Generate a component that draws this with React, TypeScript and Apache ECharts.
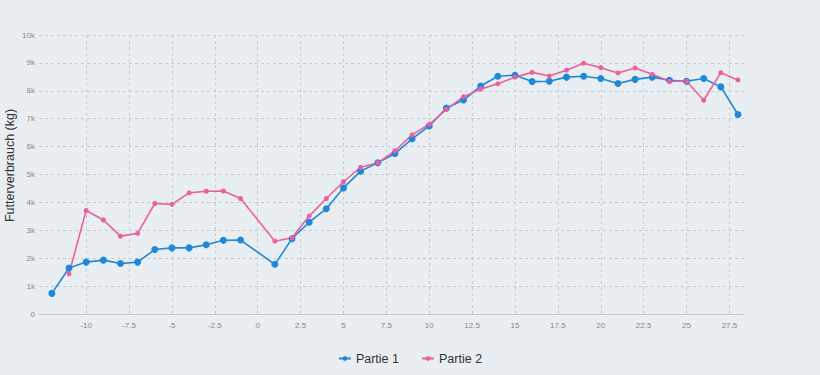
import React, { useEffect, useRef } from "react";
import * as echarts from "echarts";

const xs1 = [-12, -11, -10, -9, -8, -7, -6, -5, -4, -3, -2, -1, 1, 2, 3, 4, 5, 6, 7, 8, 9, 10, 11, 12, 13, 14, 15, 16, 17, 18, 19, 20, 21, 22, 23, 24, 25, 26, 27, 28];
const partie1 = [740, 1650, 1860, 1930, 1810, 1860, 2310, 2370, 2370, 2480, 2640, 2650, 1780, 2700, 3290, 3770, 4520, 5120, 5420, 5750, 6280, 6740, 7380, 7670, 8170, 8520, 8560, 8330, 8340, 8490, 8520, 8440, 8260, 8410, 8490, 8380, 8340, 8440, 8140, 7150];
const xs2 = [-11, -10, -9, -8, -7, -6, -5, -4, -3, -2, -1, 1, 2, 3, 4, 5, 6, 7, 8, 9, 10, 11, 12, 13, 14, 15, 16, 17, 18, 19, 20, 21, 22, 23, 24, 25, 26, 27, 28];
const partie2 = [1440, 3710, 3370, 2790, 2890, 3960, 3930, 4340, 4400, 4410, 4140, 2610, 2730, 3510, 4140, 4740, 5260, 5420, 5850, 6420, 6800, 7330, 7790, 8060, 8250, 8490, 8660, 8530, 8740, 8990, 8830, 8640, 8820, 8590, 8340, 8340, 7660, 8650, 8390];
const xTicks = [-10, -7.5, -5, -2.5, 0, 2.5, 5, 7.5, 10, 12.5, 15, 17.5, 20, 22.5, 25, 27.5];
const seriesNames = ["Partie 1", "Partie 2"];

export default function App() {
  const ref = useRef<HTMLDivElement>(null);
  useEffect(() => {
    if (!ref.current) return;
    const chart = echarts.init(ref.current, null, { renderer: "svg" });
    const gridLine = { show: true, lineStyle: { color: "#c9cdd2", type: [3, 3], width: 1 } };
    chart.setOption({
      animation: false,
      backgroundColor: "#e9eef2",
      textStyle: { fontFamily: "Liberation Sans, Arial, sans-serif" },
      grid: { left: 39, right: 76, top: 35, bottom: 61, outerBoundsMode: "none", containLabel: false },
      legend: {
        top: 347,
        left: "center",
        itemGap: 22,
        itemWidth: 12,
        itemHeight: 6,
        textStyle: { fontSize: 12.5, color: "#333" },
        data: seriesNames,
      },
      xAxis: {
        type: "value",
        min: -12.75,
        max: 28.35,
        axisLine: { show: true, lineStyle: { color: "#c4c8cc" } },
        axisTick: { show: false, customValues: xTicks },
        axisLabel: { customValues: xTicks, fontSize: 8, color: "#888", margin: 7 },
        splitLine: gridLine,
      },
      yAxis: {
        type: "value",
        min: 0,
        max: 10000,
        interval: 1000,
        name: "Futterverbrauch (kg)",
        nameLocation: "middle",
        nameGap: 23,
        nameMoveOverlap: false,
        nameTextStyle: { fontSize: 12.5, color: "#333", padding: [0, 0, 0, 18] },
        axisLine: { show: false },
        axisTick: { show: true, length: 3, lineStyle: { color: "#c9cdd2" } },
        axisLabel: {
          fontSize: 8,
          color: "#888",
          margin: 4,
          formatter: (v: number) => (v === 0 ? "0" : v / 1000 + "k"),
        },
        splitLine: gridLine,
      },
      series: [
        {
          name: seriesNames[0],
          type: "line",
          data: xs1.map((x, i) => [x, partie1[i]]),
          symbol: "circle",
          symbolSize: 7,
          color: "#1f88da",
          lineStyle: { width: 1.6 },
        },
        {
          name: seriesNames[1],
          type: "line",
          data: xs2.map((x, i) => [x, partie2[i]]),
          symbol: "circle",
          symbolSize: 5,
          color: "#ef5f9a",
          lineStyle: { width: 1.6 },
        },
      ],
    });
    return () => chart.dispose();
  }, []);
  return (
    <div
      ref={ref}
      style={{ position: "fixed", left: 0, top: 0, width: 820, height: 375 }}
    />
  );
}
